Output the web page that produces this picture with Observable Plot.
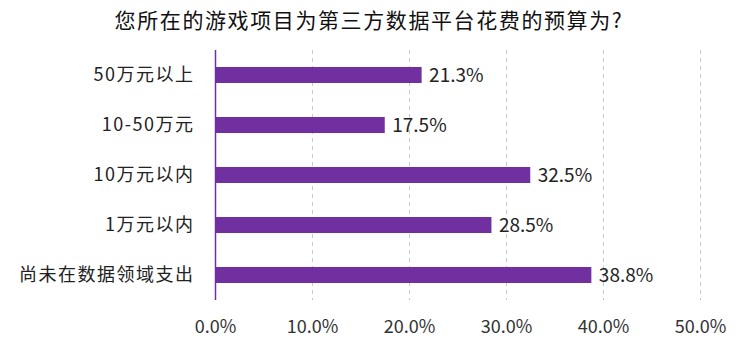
<!DOCTYPE html>
<html>
<head>
<meta charset="utf-8">
<script src="https://cdn.jsdelivr.net/npm/d3@7"></script>
<script src="https://cdn.jsdelivr.net/npm/@observablehq/plot@0.6"></script>
<style>
  body { margin: 0; background: #fff; font-family: "Noto Sans CJK SC", "Noto Sans", sans-serif; }
  #title { height: 40px; line-height: 38px; text-align: center; font-size: 21px; letter-spacing: 1.6px; color: #111; padding-right: 12px; box-sizing: border-box; width: 750px; }
  #chart svg [aria-label="y-axis tick label"] text { letter-spacing: 1.5px; }
</style>
</head>
<body>
<div id="title">您所在的游戏项目为第三方数据平台花费的预算为?</div>
<div id="chart"></div>
<script>
const categories = ["50万元以上", "10-50万元", "10万元以内", "1万元以内", "尚未在数据领域支出"];
const values = [21.3, 17.5, 32.5, 28.5, 38.8];
const xTicks = [0, 10, 20, 30, 40, 50];

const data = categories.map((c, i) => ({category: c, value: values[i]}));
const fmt = d => d.toFixed(1) + "%";

const chart = Plot.plot({
  width: 750,
  height: 306,
  marginTop: 10,
  marginBottom: 46,
  marginLeft: 215,
  marginRight: 50,
  style: {fontFamily: '"Noto Sans CJK SC", "Noto Sans", sans-serif', background: "#fff"},
  x: {domain: [0, 50]},
  y: {domain: categories, paddingInner: 0.68, paddingOuter: 0.34},
  marks: [
    Plot.ruleX(xTicks.slice(1), {stroke: "#c8c8c8", strokeDasharray: "4,4", strokeWidth: 1, y1: null, y2: null}),
    Plot.barX(data, {x: "value", y: "category", fill: "#7030A0"}),
    Plot.ruleX([0], {stroke: "#7030A0", strokeWidth: 1.5}),
    Plot.text(data, {x: "value", y: "category", text: d => fmt(d.value), textAnchor: "start", dx: 7, fontSize: 19, fill: "#222"}),
    Plot.axisY({tickSize: 0, tickPadding: 21, fontSize: 18, fill: "#222", label: null}),
    Plot.axisX({ticks: xTicks, tickFormat: fmt, tickSize: 0, tickPadding: 20, fontSize: 18, fill: "#333", label: null})
  ]
});
document.getElementById("chart").appendChild(chart);
</script>
</body>
</html>
